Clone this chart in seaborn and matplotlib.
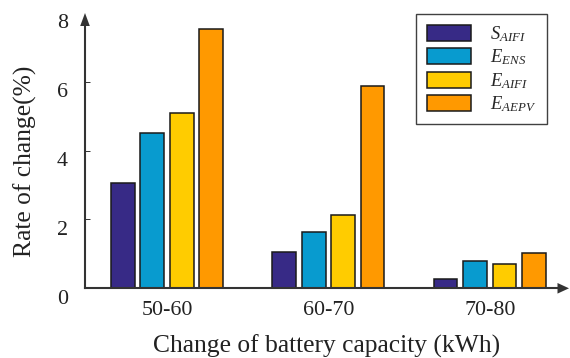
import numpy as np
import pandas as pd
import matplotlib
matplotlib.use("Agg")
import matplotlib.pyplot as plt
import matplotlib.transforms as mtransforms
from matplotlib.patches import Polygon
import seaborn as sns

# Rate of change of each indicator per battery-capacity step
capacity_steps = ["50-60", "60-70", "70-80"]
indicators = ["$S_{AIFI}$", "$E_{ENS}$", "$E_{AIFI}$", "$E_{AEPV}$"]
s_aifi = [3.07, 1.05, 0.26]
e_ens = [4.52, 1.65, 0.80]
e_aifi = [5.10, 2.13, 0.71]
e_aepv = [7.53, 5.89, 1.03]
y_ticks = [0, 2, 4, 6, 8]

colors = ["#372a86", "#089bcf", "#ffcc00", "#ff9900"]

df = pd.DataFrame({
    "step": np.tile(capacity_steps, len(indicators)),
    "indicator": np.repeat(indicators, len(capacity_steps)),
    "rate": s_aifi + e_ens + e_aifi + e_aepv,
})

sns.set_theme(style="white")
plt.rcParams["font.family"] = ["Liberation Serif", "DejaVu Serif"]
plt.rcParams["mathtext.fontset"] = "custom"
plt.rcParams["mathtext.rm"] = "Liberation Serif"
plt.rcParams["mathtext.it"] = "Liberation Serif:italic"
plt.rcParams["mathtext.bf"] = "Liberation Serif:bold"

W, H = 570, 358
fig = plt.figure(figsize=(W / 100, H / 100), dpi=100)
ax = fig.add_axes([85 / W, 1 - 288.3 / H, (569 - 85) / W, (288.3 - 13) / H])

sns.barplot(data=df, x="step", y="rate", hue="indicator", order=capacity_steps,
            hue_order=indicators, palette=colors, width=0.73, gap=0.2,
            edgecolor="#1a1a1a", linewidth=1.1, saturation=1, ax=ax)

ax.set_xlim(-0.508, 2.49)
ax.set_ylim(0, 7.98)
ax.set_yticks(y_ticks)
ax.set_yticklabels([str(t) for t in y_ticks])

axis_color = "#333333"
for side in ["top", "right"]:
    ax.spines[side].set_visible(False)
for side in ["left", "bottom"]:
    ax.spines[side].set_color(axis_color)
    ax.spines[side].set_linewidth(1.5)
# stop the axis lines inside the arrowheads
ax.spines["left"].set_bounds(0, 7.75)
ax.spines["bottom"].set_bounds(-0.508, 2.45)


def arrow_head(anchor, verts_px):
    """Filled triangle whose vertices are pixel offsets from an axes-fraction anchor."""
    trans = fig.dpi_scale_trans + mtransforms.ScaledTranslation(anchor[0], anchor[1], ax.transAxes)
    verts = [(vx / fig.dpi, vy / fig.dpi) for vx, vy in verts_px]
    head = Polygon(verts, closed=True, transform=trans, facecolor=axis_color,
                   edgecolor="none", clip_on=False, zorder=5)
    fig.add_artist(head)


arrow_head((0, 1), [(0, 0), (-4.8, -13), (4.8, -13)])
arrow_head((1, 0), [(0, 0), (-11.5, -5.3), (-11.5, 5.3)])

ax.tick_params(axis="y", direction="in", length=3.6, width=0.7, color=axis_color,
               pad=12.2, labelsize=15.8, labelcolor="#222222", left=True)
ax.tick_params(axis="x", length=0, pad=9.5, labelsize=15.8, labelcolor="#222222")
# the arrowhead replaces the top tick mark
ax.yaxis.get_major_ticks()[-1].tick1line.set_visible(False)

# shift y tick labels slightly below their ticks
offset = mtransforms.ScaledTranslation(0, -8.5 / 100, fig.dpi_scale_trans)
for lbl in ax.get_yticklabels():
    lbl.set_transform(lbl.get_transform() + offset)

ax.set_xlabel("Change of battery capacity (kWh)", fontsize=18.4, color="#222222", labelpad=10.3)
ax.set_ylabel("Rate of change(%)", fontsize=18.4, color="#222222")
ax.yaxis.set_label_coords(-0.099, 0.461)

handles, labels = ax.get_legend_handles_labels()
leg = ax.legend(handles, labels, loc="upper right",
                bbox_to_anchor=(547 / W, 1 - 14 / H), bbox_transform=fig.transFigure,
                borderaxespad=0, fontsize=13.3, frameon=True, fancybox=False,
                edgecolor="#111111", handlelength=2.43, handleheight=0.97,
                handletextpad=1.03, labelspacing=0.2, borderpad=0.55, title=None)
leg.get_frame().set_linewidth(1.0)

fig.savefig("out.png", dpi=100)
